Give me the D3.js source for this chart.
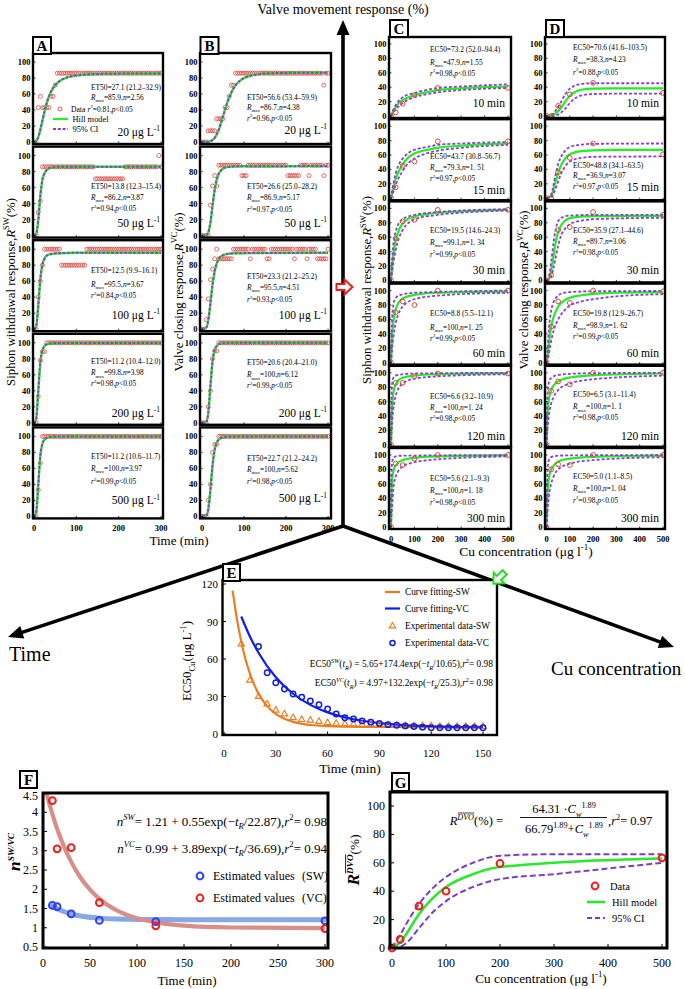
<!DOCTYPE html>
<html><head><meta charset="utf-8">
<script src="https://cdn.jsdelivr.net/npm/d3@7/dist/d3.min.js"></script>
<style>
html,body{margin:0;padding:0;background:#fff;}
svg{display:block;}
text{font-family:"Liberation Serif","Times New Roman",Times,serif;}
</style></head>
<body><svg id="fig" width="685" height="989" viewBox="0 0 685 989"></svg>
<script>
// ================= DATA =================
const sampleTimes=[0,5,10,15,20,25,30,35,40,45,50,55,60,65,70,75,80,85,90,95,100,105,110,115,120,125,130,135,140,145,150,155,160,165,170,175,180,185,190,195,200,205,210,215,220,225,230,235,240,245,250,255,260,265,270,275,280,285,290,295,300];
const concLabels=["20","50","100","200","500"];
const timeLabels=["10","15","30","60","120","300"];
const concPoints=[0,20,50,100,200,500];

// Panel A observed siphon-withdrawal responses (%), one value per sample time
const obsSW20=[0,0,43,57,43,43,43,43,57,57,71,86,86,86,86,86,86,86,86,86,86,86,86,86,86,86,86,86,86,86,86,86,86,86,86,86,86,86,86,86,86,86,86,86,86,86,86,86,86,86,86,86,86,86,86,86,86,86,86,86,86];
const obsSW50=[0,0,29,43,86,86,86,86,86,86,86,86,86,86,86,86,86,86,86,86,86,86,86,86,86,86,86,86,86,71,71,71,71,71,71,71,71,71,71,71,71,71,71,86,86,86,86,86,86,86,86,86,86,86,86,86,86,86,86,100,86];
const obsSW100=[0,0,40,60,80,100,100,100,100,100,100,100,100,80,80,80,80,80,80,80,80,80,80,80,80,100,100,100,100,100,100,100,100,100,100,100,100,100,100,100,100,100,100,100,100,100,100,100,100,100,100,100,100,100,100,100,100,100,100,100,100];
const obsSW200=[0,0,33,78,89,89,100,100,100,100,100,100,100,100,100,100,100,100,100,100,100,100,100,100,100,100,100,100,100,100,100,100,100,100,100,100,100,100,100,100,100,100,100,100,100,100,100,100,100,100,100,100,100,100,100,100,100,100,100,100,100];
const obsSW500=[0,0,33,67,100,100,100,100,100,100,100,100,100,100,100,100,100,100,100,100,100,100,100,100,100,100,100,100,100,100,100,100,100,100,100,100,100,100,100,100,100,100,100,100,100,100,100,100,100,100,100,100,100,100,100,100,100,100,100,100,100];
// Panel B observed valve-closing responses (%)
const obsVC20=[0,0,0,14,14,14,14,29,29,29,29,43,43,57,71,71,86,86,86,86,86,86,86,86,86,86,86,86,86,86,86,86,86,86,86,86,86,86,86,86,86,86,86,86,86,86,86,86,86,86,86,86,86,86,86,86,86,86,71,86,86];
const obsVC50=[0,0,0,0,38,62,75,62,88,88,88,88,88,88,88,88,88,88,88,75,75,75,88,88,88,88,88,88,88,88,88,88,88,88,88,88,88,88,88,88,88,75,75,75,75,75,75,88,88,88,88,75,88,88,88,88,88,88,75,88,88];
const obsVC100=[0,0,12,38,62,75,88,100,88,88,88,88,88,88,88,100,100,100,100,100,100,100,100,88,100,100,100,100,100,100,100,88,88,100,100,100,100,100,100,100,100,100,100,100,88,100,100,100,100,100,88,100,100,100,100,88,88,88,88,88,100];
const obsVC200=[0,0,0,20,40,80,90,90,100,100,100,100,100,100,100,100,100,100,100,100,100,100,100,100,100,100,100,100,100,100,100,100,100,100,100,100,100,100,100,100,100,100,100,100,100,100,100,100,100,100,100,100,100,100,100,100,100,100,100,100,100];
const obsVC500=[0,0,0,20,40,80,90,90,100,100,100,100,100,100,100,100,100,100,100,100,100,100,100,100,100,100,100,100,100,100,100,100,100,100,100,100,100,100,100,100,100,100,100,100,100,100,100,100,100,100,100,100,100,100,100,100,100,100,100,100,100];

const fitSW=[
 [[0,0],[5,1],[10,6],[15,15.5],[20,27],[25,38.5],[30,48.5],[40,62.7],[50,71],[60,76],[80,81],[100,83],[150,85],[200,85.5],[300,85.7]],
 [[0,0],[5,1.7],[10,19],[15,50],[20,70],[25,78],[30,82],[40,85],[60,86],[300,86.2]],
 [[0,0],[5,3],[10,29],[15,63],[20,81],[25,88.5],[30,92],[40,94],[60,95],[100,95.5],[300,95.5]],
 [[0,0],[5,4],[10,39],[15,76],[20,91],[25,96],[30,98],[40,99.2],[60,99.7],[300,99.8]],
 [[0,0],[5,4],[10,39],[15,76],[20,91],[25,96],[30,98],[40,99.4],[60,99.9],[300,100]]
];
const fitVC=[
 [[0,0],[10,0],[20,1],[30,5],[40,15.5],[50,32],[60,49],[70,62],[80,71],[90,76.5],[100,80],[120,83.5],[150,85.5],[200,86.4],[300,86.7]],
 [[0,0],[10,0.5],[15,4],[20,16],[25,37],[30,56.5],[35,70],[40,77.5],[50,83.7],[60,85.6],[80,86.6],[300,86.9]],
 [[0,0],[10,2],[15,11.5],[20,32],[25,55],[30,72],[35,82],[40,88],[50,92.5],[60,94],[80,95],[300,95.5]],
 [[0,0],[10,1],[15,12.5],[20,45.5],[25,76.6],[30,91],[35,96],[40,98.3],[50,99.6],[60,100],[300,100]],
 [[0,0],[10,1],[15,9],[20,33],[25,63],[30,83],[35,92],[40,96],[50,98.8],[60,99.6],[80,100],[300,100]]
];
const et50SW=["27.1 (21.2–32.9)","13.8 (12.3–15.4)","12.5 (9.9–16.1)","11.2 (10.4–12.0)","11.2 (10.6–11.7)"];
const rmaxSW=["85.9","86.2","95.5","99.8","100"];
const nSW=["2.56","3.87","3.67","3.98","3.97"];
const r2SW=["0.81","0.94","0.84","0.98","0.99"];
const et50VC=["56.6 (53.4–59.9)","26.6 (25.0–28.2)","23.3 (21.2–25.2)","20.6 (20.4–21.0)","22.7 (21.2–24.2)"];
const rmaxVC=["86.7","86.9","95.5","100","100"];
const nVC=["4.38","5.17","4.51","6.12","5.62"];
const r2VC=["0.96","0.97","0.93","0.99","0.98"];

// Panel C (siphon withdrawal vs Cu) observed
const obsCSW=[[0,5,17,29,39,39],[0,15,45,51,79,79],[0,58,82,84,98,98],[0,70,85,80,100,100],[0,86,86,95,99,99],[0,88,86,95,100,100]];
const fitCSW=[
 [[0,0],[10,7],[20,12],[35,19],[50,22],[75,26],[100,29],[150,33],[200,36],[300,38.5],[400,40],[500,41]],
 [[0,0],[10,14],[20,26],[30,35],[50,47],[75,57],[100,62],[150,67],[200,70],[300,73],[400,75],[500,76]],
 [[0,0],[5,20],[10,35],[20,55],[30,67],[50,79],[75,86],[100,89],[150,92],[200,94],[300,96],[500,98]],
 [[0,0],[3,25],[5,38],[10,56],[20,74],[30,82],[50,89],[100,94],[200,97],[500,99]],
 [[0,0],[3,40],[5,55],[10,72],[20,84],[30,89],[50,93],[100,96],[200,98],[500,99.5]],
 [[0,0],[2,40],[5,65],[10,77],[20,86],[50,93],[100,96],[200,98],[500,99.5]]
];
const upCSW=[
 [[0,0],[10,9],[20,15],[50,26],[100,32],[150,36],[200,39],[300,41],[500,44]],
 [[0,0],[10,20],[20,34],[30,44],[50,55],[75,63],[100,67],[150,71],[200,74],[300,76],[500,78]],
 [[0,0],[5,30],[10,50],[20,68],[30,77],[50,85],[75,89],[100,91],[200,95],[300,97],[500,99]],
 [[0,0],[3,45],[5,62],[10,80],[20,90],[50,95],[100,97],[500,100]],
 [[0,0],[3,70],[5,85],[10,93],[20,96],[50,98],[100,99],[500,100]],
 [[0,0],[2,70],[5,90],[10,96],[20,98],[50,99],[500,100]]
];
const loCSW=[
 [[0,0],[10,5],[20,9],[50,18],[100,26],[150,30],[200,33],[300,36],[500,39]],
 [[0,0],[10,9],[20,18],[30,26],[50,38],[75,49],[100,55],[150,62],[200,66],[300,70],[500,74]],
 [[0,0],[5,12],[10,24],[20,42],[30,55],[50,70],[75,80],[100,85],[200,91],[300,94],[500,97]],
 [[0,0],[3,12],[5,20],[10,35],[20,55],[30,66],[50,78],[100,88],[200,93],[500,97]],
 [[0,0],[3,20],[5,32],[10,50],[20,68],[30,77],[50,85],[100,92],[200,95],[500,98]],
 [[0,0],[2,15],[5,30],[10,52],[20,70],[50,84],[100,90],[200,94],[500,98]]
];
const ec50CSW=["73.2 (52.0–94.4)","43.7 (30.8–56.7)","19.5 (14.6–24.3)","8.8 (5.5–12.1)","6.6 (3.2–10.9)","5.6 (2.1–9.3)"];
const rmaxCSW=["47.9","79.3","99.1","100","100","100"];
const nCSW=["1.55","1. 51","1. 34","1. 25","1. 24","1. 18"];
const r2CSW=["0.98","0.97","0.99","0.99","0.98","0.98"];

// Panel D (valve closing vs Cu) observed
const obsCVC=[[0,0,14,30,46,32],[0,0,36,56,76,61],[0,7,70,74,95,91],[0,50,85,83,100,99],[0,75,88,84,100,100],[0,80,87,86,100,100]];
const fitCVC=[
 [[0,0],[20,0.5],[40,4],[60,10],[80,20],[100,28],[120,33],[150,36.5],[200,38],[300,38.3],[500,38.3]],
 [[0,0],[20,3],[30,12],[40,24],[50,35],[60,44],[80,55],[100,61],[150,65.5],[200,66.5],[300,67],[500,67]],
 [[0,0],[10,2],[20,13],[30,33],[40,54],[50,67],[60,75],[80,83],[100,86.5],[150,88.5],[200,89.2],[500,89.7]],
 [[0,0],[5,10],[10,25],[20,50],[30,63],[50,78],[75,86],[100,90],[150,93.5],[200,95.5],[300,97],[500,98]],
 [[0,0],[3,30],[5,45],[10,62],[20,76],[30,82],[50,88],[100,93.5],[200,96.5],[500,99]],
 [[0,0],[3,35],[5,50],[10,67],[20,80],[30,85],[50,91],[100,95],[200,97.5],[500,99]]
];
const upCVC=[
 [[0,0],[20,1],[40,8],[60,18],[80,30],[100,38],[120,42],[150,44.5],[200,45.5],[500,45.5]],
 [[0,0],[20,5],[30,18],[40,34],[50,47],[60,56],[80,66],[100,71],[150,74.5],[200,75.5],[500,76]],
 [[0,0],[10,5],[20,25],[30,52],[40,72],[50,82],[60,86],[80,89],[100,90],[200,91],[500,91]],
 [[0,0],[5,20],[10,45],[20,72],[30,84],[50,93],[75,97],[100,98],[200,99],[500,99.5]],
 [[0,0],[3,55],[5,72],[10,86],[20,93],[50,97],[100,98.5],[200,99.5],[500,100]],
 [[0,0],[3,65],[5,82],[10,93],[20,97],[50,99],[100,99.5],[500,100]]
];
const loCVC=[
 [[0,0],[20,0],[40,1],[60,4],[80,10],[100,18],[120,24],[150,28.5],[200,30.5],[300,31],[500,31]],
 [[0,0],[20,1],[30,6],[40,14],[50,23],[60,32],[80,44],[100,51],[150,56],[200,57.5],[500,58]],
 [[0,0],[10,1],[20,5],[30,17],[40,33],[50,48],[60,60],[80,72],[100,78],[150,83],[200,85],[500,87]],
 [[0,0],[5,4],[10,12],[20,30],[30,44],[50,60],[75,72],[100,79],[150,85],[200,88],[300,92],[500,95]],
 [[0,0],[3,15],[5,25],[10,40],[20,57],[30,66],[50,76],[100,85],[200,91],[500,96]],
 [[0,0],[3,15],[5,25],[10,42],[20,60],[30,70],[50,80],[100,88],[200,93],[500,97]]
];
const ec50CVC=["70.6 (41.6–103.5)","48.8 (34.1–63.5)","35.9 (27.1–44.6)","19.8 (12.9–26.7)","6.5 (3.1–11.4)","5.0 (1.1–8.5)"];
const rmaxCVC=["38.3","36.9","89.7","98.9","100","100"];
const nCVC=["4.23","3.07","3.06","1. 62","1. 1","1. 04"];
const r2CVC=["0.88","0.97","0.98","0.99","0.98","0.98"];

// Panel E
const eTimesSW=[10,15,20,25,30,35,40,45,50,55,60,65,70,75,80,85,90,95,100,105,110,115,120,125,130,135,140,145,150];
const eSW=[72,43,30,24,19,16,13,11.5,11,10,9,8.5,8,8,7.5,7.5,7,7,7,6.5,6.5,6.5,6.5,6,6,6,6,6,6];
const eTimesVC=[20,25,30,35,40,45,50,55,60,65,70,75,80,85,90,95,100,105,110,115,120,125,130,135,140,145,150];
const eVC=[70,49,41,36,32,29.5,26.5,23.5,20,16,13,12,10.5,9.5,8.5,7.5,7,6.5,6,5.5,5,5,5,5,5,5,5];
const eFitSW=[[5,114.7],[7.5,91.9],[10,73.9],[12.5,59.6],[15,48.3],[20,32.3],[25,22.3],[30,16.1],[40,9.7],[50,7.2],[60,6.3],[80,5.75],[100,5.66],[150,5.65]];
const eFitVC=[[10,94],[15,78],[20,65],[30,45.4],[40,32.2],[50,23.3],[60,17.3],[70,13.3],[80,10.6],[90,8.7],[100,7.5],[120,6.1],[150,5.3]];

// Panel F
const fTimes=[10,15,30,60,120,300];
const fSW=[1.58,1.55,1.36,1.19,1.16,1.18];
const fVC=[4.3,3.05,3.08,1.65,1.05,0.98];
const fFitSW=[[10,1.565],[15,1.495],[20,1.44],[30,1.358],[40,1.306],[60,1.25],[80,1.227],[100,1.217],[150,1.211],[300,1.21]];
const fFitVC=[[0,4.88],[5,4.38],[10,3.95],[15,3.57],[20,3.25],[30,2.71],[40,2.3],[50,1.99],[60,1.75],[80,1.43],[100,1.245],[120,1.138],[150,1.055],[200,1.007],[300,0.991]];

// Panel G
const gConc=[0,15,50,100,200,500];
const gObs=[0,6,29.5,40,59.5,63.5];
const gFit=[[0,0],[15,4],[25,9],[50,24],[75,35],[100,43],[150,52],[200,57],[500,63]];
const gUp=[[0,0],[15,9],[25,16],[50,31],[75,42],[100,50],[150,60],[200,65],[300,66],[500,66]];
const gLo=[[0,0],[15,1],[25,3],[50,14],[75,25],[100,33],[150,43],[200,48.5],[300,52],[400,56],[500,60]];

const yTicks100=[0,20,40,60,80,100];
const xTicks300=[0,100,200,300];
const xTicks500=[0,100,200,300,400,500];
const eXTicks=[0,30,60,90,120,150];
const eYTicks=[0,30,60,90,120];
const fXTicks=[0,50,100,150,200,250,300];
const fYTicks=[0.5,1,1.5,2,2.5,3,3.5,4,4.5];

// ================= DRAWING =================
const svg=d3.select("#fig");
const GREEN="#22ee22", PURPLE="#8a3fd1", REDPT="#dd4a44", ORANGE="#f07a1e", BLUE="#0c1de6";

function rich(parent,x,y,segs,o){
  o=o||{};
  const size=o.size||10;
  const g=parent.append("g").attr("transform","translate("+x+","+y+")"+(o.rotate?" rotate("+o.rotate+")":""));
  const inner=g.append("g");
  let cx=0;
  segs.forEach(s=>{
    if(typeof s==="string") s={t:s};
    const small=s.sub||s.sup;
    const fs=small?size*0.66:size*(s.scale||1);
    const dy=s.sub?size*0.3:(s.sup?-size*0.42:0);
    const t=inner.append("text").attr("x",cx).attr("y",dy).attr("font-size",fs).attr("fill",o.color||"#000").text(s.t);
    if(s.i) t.attr("font-style","italic");
    if(s.b||o.bold) t.attr("font-weight","bold");
    const w=t.node().getComputedTextLength();
    if(s.over){inner.append("line").attr("x1",cx+0.5).attr("x2",cx+w).attr("y1",dy-fs*0.82).attr("y2",dy-fs*0.82).attr("stroke",o.color||"#000").attr("stroke-width",Math.max(0.7,fs*0.09));}
    cx+=w+(s.gap||0);
  });
  const a=o.anchor||"start";
  const sh=a==="end"?-cx:(a==="middle"?-cx/2:0);
  inner.attr("transform","translate("+sh+",0)");
  return cx;
}
function arrowHead(g,tip,u,len,half,fill){
  const bx=tip[0]-u[0]*len, by=tip[1]-u[1]*len, px=-u[1], py=u[0];
  g.append("polygon").attr("points",[[tip[0],tip[1]],[bx+px*half,by+py*half],[bx-px*half,by-py*half]].map(p=>p.join(",")).join(" ")).attr("fill",fill);
}
function labelBox(g,x,y,w,h,t){
  g.append("rect").attr("x",x).attr("y",y).attr("width",w).attr("height",h).attr("fill","#fff").attr("stroke","#000").attr("stroke-width",2);
  g.append("text").attr("x",x+w/2).attr("y",y+h-3.5).attr("text-anchor","middle").attr("font-size",15).attr("font-weight","bold").text(t);
}

// ---- 3D axes arrows ----
const gAx=svg.append("g");
const origin=[343,526];
[[343,20],[8,637],[674,647]].forEach(e=>{
  const dx=e[0]-origin[0], dy=e[1]-origin[1], L=Math.hypot(dx,dy), u=[dx/L,dy/L];
  gAx.append("line").attr("x1",origin[0]).attr("y1",origin[1]).attr("x2",e[0]-u[0]*10).attr("y2",e[1]-u[1]*10).attr("stroke","#000").attr("stroke-width",3.6);
  arrowHead(gAx,e,u,15,6.5,"#000");
});
gAx.append("text").attr("x",343).attr("y",14).attr("text-anchor","middle").attr("font-size",14).text("Valve movement response (%)");
gAx.append("text").attr("x",9).attr("y",661).attr("font-size",20).text("Time");
gAx.append("text").attr("x",551).attr("y",675).attr("font-size",19).text("Cu concentration");

// ---- Panels A & B ----
const abTops=[53,146.6,240.2,333.8,427.4];
function timeColumn(cfg){
  const g=svg.append("g");
  const x=d3.scaleLinear([0,300],[cfg.x0,cfg.x1]);
  cfg.obs.forEach((vals,i)=>{
    const top=abTops[i], h=91;
    const y=d3.scaleLinear([0,100],[top+89,top+9]);
    g.append("rect").attr("x",cfg.fl).attr("y",top).attr("width",cfg.fr-cfg.fl).attr("height",h).attr("fill","#fff");
    g.append("g").selectAll("circle").data(vals).join("circle")
      .attr("cx",(d,k)=>x(sampleTimes[k])).attr("cy",d=>y(d)).attr("r",2)
      .attr("fill","none").attr("stroke",REDPT).attr("stroke-width",0.8);
    const ln=d3.line().x(d=>x(d[0])).y(d=>y(d[1])).curve(d3.curveMonotoneX);
    g.append("path").attr("d",ln(cfg.fits[i])).attr("fill","none").attr("stroke",GREEN).attr("stroke-width",2.4);
    g.append("path").attr("d",ln(cfg.fits[i])).attr("fill","none").attr("stroke",PURPLE).attr("stroke-width",2).attr("stroke-dasharray","2.6,1.8");
    g.append("rect").attr("x",cfg.fl).attr("y",top).attr("width",cfg.fr-cfg.fl).attr("height",h).attr("fill","none").attr("stroke","#000").attr("stroke-width",2.4);
    yTicks100.forEach(v=>{
      g.append("text").attr("x",cfg.fl-2.5).attr("y",y(v)+3).attr("text-anchor","end").attr("font-size",8.5).attr("font-weight","bold").text(v);
      g.append("line").attr("x1",cfg.fl).attr("x2",cfg.fl+2.5).attr("y1",y(v)).attr("y2",y(v)).attr("stroke","#000").attr("stroke-width",0.8);
    });
    xTicks300.forEach(v=>{
      g.append("line").attr("x1",x(v)).attr("x2",x(v)).attr("y1",top+h).attr("y2",top+h-2.5).attr("stroke","#000").attr("stroke-width",0.8);
      if(i===4) g.append("text").attr("x",x(v)).attr("y",top+h+13).attr("text-anchor","middle").attr("font-size",8.5).attr("font-weight","bold").text(v);
    });
    const an=cfg.ann[i], fs=7.4;
    rich(g,cfg.tx,top+an[0]+2.5,["ET50="+cfg.et[i]],{size:fs});
    rich(g,cfg.tx,top+an[1]+2.5,[{t:"R",i:1},{t:"max",sub:1},"="+cfg.rmax[i]+", ",{t:"n",i:1},"="+cfg.n[i]],{size:fs});
    rich(g,(cfg.legend&&i===0)?cfg.tx-3.5:cfg.tx,top+an[2]+2.5,[{t:"r",i:1},{t:"2",sup:1},"="+cfg.r2[i]+", ",{t:"p",i:1},"<0.05"],{size:fs});
    rich(g,cfg.cx,top+an[3]+4,[concLabels[i]+" μg L",{t:"-1",sup:1}],{size:11.5,anchor:"end"});
    if(cfg.legend&&i===0){
      g.append("circle").attr("cx",60).attr("cy",top+56).attr("r",2).attr("fill","none").attr("stroke",REDPT).attr("stroke-width",0.9);
      g.append("text").attr("x",71).attr("y",top+58.5).attr("font-size",7.6).text("Data");
      g.append("line").attr("x1",53).attr("x2",68).attr("y1",top+66).attr("y2",top+66).attr("stroke",GREEN).attr("stroke-width",2.2);
      g.append("text").attr("x",72.5).attr("y",top+69).attr("font-size",8.4).text("Hill model");
      g.append("line").attr("x1",53).attr("x2",68).attr("y1",top+76).attr("y2",top+76).attr("stroke",PURPLE).attr("stroke-width",2).attr("stroke-dasharray","3,1.8");
      g.append("text").attr("x",72.5).attr("y",top+79).attr("font-size",8.4).text("95% CI");
    }
  });
  labelBox(g,cfg.box[0],37,18,17,cfg.letter);
  rich(g,cfg.ylx,292,[cfg.yname,{t:"R",i:1},{t:cfg.ysup,sup:1},"(%)"],{size:12.8,rotate:-90,anchor:"middle"});
}
timeColumn({obs:[obsSW20,obsSW50,obsSW100,obsSW200,obsSW500],fits:fitSW,et:et50SW,rmax:rmaxSW,n:nSW,r2:r2SW,
  fl:33,fr:163,x0:34,x1:161,tx:91,cx:160,legend:true,letter:"A",box:[33],ylx:14.5,yname:"Siphon withdrawal response, ",ysup:"SW",
  ann:[[34,44,56,79],[40,51,62,76],[30,44,55,75],[28,39,50,79],[29,41,54,73]]});
timeColumn({obs:[obsVC20,obsVC50,obsVC100,obsVC200,obsVC500],fits:fitVC,et:et50VC,rmax:rmaxVC,n:nVC,r2:r2VC,
  fl:200,fr:331,x0:202,x1:328,tx:247,cx:327,legend:false,letter:"B",box:[200.5],ylx:182.5,yname:"Valve closing response, ",ysup:"VC",
  ann:[[44,54,65,77],[40,51,63,76],[36,47,59,75],[29,41,52,79],[31,42,54,71]]});
svg.append("text").attr("x",179).attr("y",544.5).attr("text-anchor","middle").attr("font-size",13).text("Time (min)");

// ---- Panels C & D ----
const cdTops=[37,119.2,201.4,283.6,365.8,448];
function concColumn(cfg){
  const g=svg.append("g");
  const x=d3.scaleLinear([0,500],[cfg.x0,cfg.x1]);
  cfg.obs.forEach((vals,i)=>{
    const top=cdTops[i], h=81;
    const y=d3.scaleLinear([0,100],[top+79,top+7]);
    g.append("rect").attr("x",cfg.fl).attr("y",top).attr("width",cfg.fr-cfg.fl).attr("height",h).attr("fill","#fff");
    const ln=d3.line().x(d=>x(d[0])).y(d=>y(d[1])).curve(d3.curveMonotoneX);
    g.append("path").attr("d",ln(cfg.fit[i])).attr("fill","none").attr("stroke",GREEN).attr("stroke-width",2.2);
    [cfg.up[i],cfg.lo[i]].forEach(c=>g.append("path").attr("d",ln(c)).attr("fill","none").attr("stroke",PURPLE).attr("stroke-width",1.8).attr("stroke-dasharray","3,2"));
    g.append("g").selectAll("circle").data(vals).join("circle")
      .attr("cx",(d,k)=>x(concPoints[k])).attr("cy",d=>y(d)).attr("r",2.4)
      .attr("fill","none").attr("stroke",REDPT).attr("stroke-width",1);
    g.append("rect").attr("x",cfg.fl).attr("y",top).attr("width",cfg.fr-cfg.fl).attr("height",h).attr("fill","none").attr("stroke","#000").attr("stroke-width",2.4);
    yTicks100.forEach(v=>{
      g.append("text").attr("x",cfg.fl-2.5).attr("y",y(v)+3).attr("text-anchor","end").attr("font-size",8.5).attr("font-weight","bold").text(v);
      g.append("line").attr("x1",cfg.fl).attr("x2",cfg.fl+2.5).attr("y1",y(v)).attr("y2",y(v)).attr("stroke","#000").attr("stroke-width",0.8);
    });
    xTicks500.forEach(v=>{
      g.append("line").attr("x1",x(v)).attr("x2",x(v)).attr("y1",top+h).attr("y2",top+h-2.5).attr("stroke","#000").attr("stroke-width",0.8);
      if(i===5) g.append("text").attr("x",x(v)).attr("y",top+h+13).attr("text-anchor","middle").attr("font-size",8.5).attr("font-weight","bold").text(v);
    });
    const an=cfg.ann[i], fs=7.4;
    rich(g,cfg.tx,top+an[0]+2.5,["EC50="+cfg.ec[i]],{size:fs});
    rich(g,cfg.tx,top+an[1]+2.5,[{t:"R",i:1},{t:"max",sub:1},"="+cfg.rmax[i]+", ",{t:"n",i:1},"="+cfg.n[i]],{size:fs});
    rich(g,cfg.tx,top+an[2]+2.5,[{t:"r",i:1},{t:"2",sup:1},"="+cfg.r2[i]+", ",{t:"p",i:1},"<0.05"],{size:fs});
    g.append("text").attr("x",cfg.cx).attr("y",top+an[3]+4).attr("text-anchor","end").attr("font-size",11.5).text(timeLabels[i]+" min");
  });
  labelBox(g,cfg.fl+1,20,18,17,cfg.letter);
  rich(g,cfg.ylx,290,[cfg.yname,{t:"R",i:1},{t:cfg.ysup,sup:1},"(%)"],{size:12.8,rotate:-90,anchor:"middle"});
}
concColumn({obs:obsCSW,fit:fitCSW,up:upCSW,lo:loCSW,ec:ec50CSW,rmax:rmaxCSW,n:nCSW,r2:r2CSW,
  fl:389,fr:511,x0:391,x1:508,tx:430,cx:505,letter:"C",ylx:371,yname:"Siphon withdrawal response, ",ysup:"SW",
  ann:[[12,25,36,66],[37.5,48,59,71],[28.6,40.6,52.6,68.6],[29.4,43.4,54.4,69.4],[31,42,53,70],[30,42,54,70]]});
concColumn({obs:obsCVC,fit:fitCVC,up:upCVC,lo:loCVC,ec:ec50CVC,rmax:rmaxCVC,n:nCVC,r2:r2CVC,
  fl:545,fr:665,x0:546.5,x1:663,tx:573,cx:659,letter:"D",ylx:528,yname:"Valve closing response, ",ysup:"VC",
  ann:[[10,22,35,66],[46,56.5,67.5,67.5],[28.6,40,51,68.6],[29.4,41.4,53,69.4],[29,41,52,70],[28,40,52,70]]});
rich(svg,526,556,["Cu concentration (μg l",{t:"-1",sup:1},")"],{size:13.5,anchor:"middle"});

// ---- Panel E ----
(function(){
  const g=svg.append("g");
  const x=d3.scaleLinear([0,150],[224,483]), y=d3.scaleLinear([0,120],[734,584]);
  g.append("rect").attr("x",222.5).attr("y",580).attr("width",274.5).attr("height",155).attr("fill","#fff");
  const ln=d3.line().x(d=>x(d[0])).y(d=>y(d[1])).curve(d3.curveMonotoneX);
  g.append("path").attr("d",ln(eFitSW)).attr("fill","none").attr("stroke",ORANGE).attr("stroke-width",2.2);
  g.append("path").attr("d",ln(eFitVC)).attr("fill","none").attr("stroke",BLUE).attr("stroke-width",2.2);
  const tri=d3.symbol(d3.symbolTriangle,18);
  g.append("g").selectAll("path").data(eSW).join("path").attr("d",tri)
    .attr("transform",(d,k)=>"translate("+x(eTimesSW[k])+","+y(d)+")").attr("fill","none").attr("stroke",ORANGE).attr("stroke-width",1.1);
  g.append("g").selectAll("circle").data(eVC).join("circle")
    .attr("cx",(d,k)=>x(eTimesVC[k])).attr("cy",d=>y(d)).attr("r",2.7).attr("fill","none").attr("stroke",BLUE).attr("stroke-width",1.5);
  g.append("rect").attr("x",222.5).attr("y",580).attr("width",274.5).attr("height",155).attr("fill","none").attr("stroke","#000").attr("stroke-width",2.4);
  eYTicks.forEach(v=>{
    g.append("text").attr("x",218).attr("y",y(v)+4).attr("text-anchor","end").attr("font-size",11).text(v);
    g.append("line").attr("x1",222.5).attr("x2",226).attr("y1",y(v)).attr("y2",y(v)).attr("stroke","#000");
  });
  eXTicks.forEach(v=>{
    g.append("text").attr("x",x(v)).attr("y",757).attr("text-anchor","middle").attr("font-size",11).text(v);
    g.append("line").attr("x1",x(v)).attr("x2",x(v)).attr("y1",735).attr("y2",731.5).attr("stroke","#000");
  });
  g.append("text").attr("x",350).attr("y",772.5).attr("text-anchor","middle").attr("font-size",13.5).text("Time (min)");
  rich(g,191,661,["EC50",{t:"Cu",sub:1}," (μg L",{t:"-1",sup:1},")"],{size:13,rotate:-90,anchor:"middle"});
  // legend
  const lx=385, fsz=9.3;
  g.append("line").attr("x1",lx).attr("x2",lx+15).attr("y1",592).attr("y2",592).attr("stroke",ORANGE).attr("stroke-width",2.2);
  g.append("text").attr("x",405).attr("y",595).attr("font-size",fsz).text("Curve fitting-SW");
  g.append("line").attr("x1",lx).attr("x2",lx+15).attr("y1",608.5).attr("y2",608.5).attr("stroke",BLUE).attr("stroke-width",2.2);
  g.append("text").attr("x",405).attr("y",611.5).attr("font-size",fsz).text("Curve fitting-VC");
  g.append("path").attr("d",tri).attr("transform","translate(392.5,626)").attr("fill","none").attr("stroke",ORANGE).attr("stroke-width",1.1);
  g.append("text").attr("x",405).attr("y",629).attr("font-size",fsz).text("Experimental data-SW");
  g.append("circle").attr("cx",392.5).attr("cy",643).attr("r",2.5).attr("fill","none").attr("stroke",BLUE).attr("stroke-width",1.5);
  g.append("text").attr("x",405).attr("y",646).attr("font-size",fsz).text("Experimental data-VC");
  rich(g,493,667,["EC50",{t:"SW",sup:1,i:1},"(",{t:"t",i:1},{t:"R",sub:1,i:1},") = 5.65+174.4exp(−",{t:"t",i:1},{t:"R",sub:1,i:1},"/10.65),  ",{t:"r",i:1},{t:"2",sup:1}," = 0.98"],{size:9.4,anchor:"end"});
  rich(g,493,686,["EC50",{t:"VC",sup:1,i:1},"(",{t:"t",i:1},{t:"R",sub:1,i:1},") = 4.97+132.2exp(−",{t:"t",i:1},{t:"R",sub:1,i:1},"/25.3),  ",{t:"r",i:1},{t:"2",sup:1}," = 0.98"],{size:9.4,anchor:"end"});
  labelBox(g,223,564,17,17,"E");
})();

// ---- Panel F ----
(function(){
  const g=svg.append("g");
  const x=d3.scaleLinear([0,300],[43,325]), y=d3.scaleLinear([0.5,4.5],[947,793]);
  g.append("rect").attr("x",43).attr("y",793).attr("width",285).attr("height",155).attr("fill","#fff");
  svg.append("clipPath").attr("id","clipF").append("rect").attr("x",43).attr("y",793).attr("width",285).attr("height",155);
  const ln=d3.line().x(d=>x(d[0])).y(d=>y(d[1])).curve(d3.curveMonotoneX);
  const cg=g.append("g").attr("clip-path","url(#clipF)");
  cg.append("path").attr("d",ln(fFitSW)).attr("fill","none").attr("stroke","#86a8e6").attr("stroke-width",5).attr("stroke-linecap","round");
  cg.append("path").attr("d",ln(fFitVC)).attr("fill","none").attr("stroke","#d88e89").attr("stroke-width",4.2);
  g.append("g").selectAll("circle").data(fSW).join("circle").attr("cx",(d,k)=>x(fTimes[k])).attr("cy",d=>y(d)).attr("r",3.4).attr("fill","none").attr("stroke","#2f42f2").attr("stroke-width",2);
  g.append("g").selectAll("circle").data(fVC).join("circle").attr("cx",(d,k)=>x(fTimes[k])).attr("cy",d=>y(d)).attr("r",3.4).attr("fill","none").attr("stroke","#f01e1e").attr("stroke-width",2);
  g.append("rect").attr("x",43).attr("y",793).attr("width",285).attr("height",155).attr("fill","none").attr("stroke","#000").attr("stroke-width",3);
  fYTicks.forEach(v=>{
    g.append("text").attr("x",38).attr("y",y(v)+(v===4.5?7:4)).attr("text-anchor","end").attr("font-size",12).text(v);
    g.append("line").attr("x1",43).attr("x2",47).attr("y1",y(v)).attr("y2",y(v)).attr("stroke","#000");
  });
  fXTicks.forEach(v=>{
    g.append("text").attr("x",x(v)).attr("y",966.5).attr("text-anchor","middle").attr("font-size",12).text(v);
    g.append("line").attr("x1",x(v)).attr("x2",x(v)).attr("y1",948).attr("y2",944).attr("stroke","#000");
  });
  g.append("text").attr("x",187).attr("y",984.5).attr("text-anchor","middle").attr("font-size",13).text("Time (min)");
  rich(g,20,852,[{t:"n",i:1,b:1,scale:1.25},{t:"SW/VC",sup:1,i:1,b:1}],{size:14,rotate:-90,anchor:"middle"});
  g.append("circle").attr("cx",200).attr("cy",876).attr("r",3.4).attr("fill","none").attr("stroke","#2f42f2").attr("stroke-width",2);
  g.append("text").attr("x",213).attr("y",880).attr("font-size",12).text("Estimated values");
  g.append("text").attr("x",302).attr("y",880).attr("font-size",12).text("(SW)");
  g.append("circle").attr("cx",200).attr("cy",898).attr("r",3.4).attr("fill","none").attr("stroke","#f01e1e").attr("stroke-width",2);
  g.append("text").attr("x",213).attr("y",902).attr("font-size",12).text("Estimated values");
  g.append("text").attr("x",302).attr("y",902).attr("font-size",12).text("(VC)");
  rich(g,327,825.5,[{t:"n",i:1},{t:"SW",sup:1,i:1}," = 1.21 + 0.55exp(−",{t:"t",i:1},{t:"R",sub:1,i:1},"/22.87), ",{t:"r",i:1},{t:"2",sup:1}," = 0.98"],{size:13,anchor:"end"});
  rich(g,327,852.5,[{t:"n",i:1},{t:"VC",sup:1,i:1}," = 0.99 + 3.89exp(−",{t:"t",i:1},{t:"R",sub:1,i:1},"/36.69), ",{t:"r",i:1},{t:"2",sup:1}," = 0.94"],{size:13,anchor:"end"});
  labelBox(g,20,771,17,17,"F");
})();

// ---- Panel G ----
(function(){
  const g=svg.append("g");
  const x=d3.scaleLinear([0,500],[392,662]), y=d3.scaleLinear([0,100],[948,806]);
  g.append("rect").attr("x",390).attr("y",792).attr("width",277).attr("height",156).attr("fill","#fff");
  const ln=d3.line().x(d=>x(d[0])).y(d=>y(d[1])).curve(d3.curveMonotoneX);
  [gUp,gLo].forEach(c=>g.append("path").attr("d",ln(c)).attr("fill","none").attr("stroke","#7d3fc2").attr("stroke-width",2).attr("stroke-dasharray","6,3"));
  g.append("path").attr("d",ln(gFit)).attr("fill","none").attr("stroke","#2be82b").attr("stroke-width",2.6);
  g.append("g").selectAll("circle").data(gObs).join("circle").attr("cx",(d,k)=>x(gConc[k])).attr("cy",d=>y(d)).attr("r",3.4).attr("fill","none").attr("stroke","#f01e1e").attr("stroke-width",2);
  g.append("rect").attr("x",390).attr("y",792).attr("width",277).attr("height",156).attr("fill","none").attr("stroke","#000").attr("stroke-width",3);
  yTicks100.forEach(v=>{
    g.append("text").attr("x",385).attr("y",y(v)+4).attr("text-anchor","end").attr("font-size",12).text(v);
    g.append("line").attr("x1",390).attr("x2",394).attr("y1",y(v)).attr("y2",y(v)).attr("stroke","#000");
  });
  xTicks500.forEach(v=>{
    g.append("text").attr("x",x(v)).attr("y",966.5).attr("text-anchor","middle").attr("font-size",12).text(v);
    g.append("line").attr("x1",x(v)).attr("x2",x(v)).attr("y1",948).attr("y2",944).attr("stroke","#000");
  });
  rich(g,541,983,["Cu concentration (μg l",{t:"-1",sup:1},")"],{size:13.3,anchor:"middle"});
  rich(g,359,860,[{t:"R",i:1,b:1,scale:1.25},{t:"DVO",sup:1,i:1,b:1,over:1},{t:" (%)",scale:0.95}],{size:14,rotate:-90,anchor:"middle"});
  // legend
  g.append("circle").attr("cx",595).attr("cy",886).attr("r",3.4).attr("fill","none").attr("stroke","#f01e1e").attr("stroke-width",2);
  g.append("text").attr("x",610).attr("y",890).attr("font-size",10.5).text("Data");
  g.append("line").attr("x1",587).attr("x2",605).attr("y1",902).attr("y2",902).attr("stroke","#2be82b").attr("stroke-width",2.6);
  g.append("text").attr("x",612).attr("y",906).attr("font-size",10.5).text("Hill model");
  g.append("line").attr("x1",587).attr("x2",605).attr("y1",918).attr("y2",918).attr("stroke","#7d3fc2").attr("stroke-width",2).attr("stroke-dasharray","5,3");
  g.append("text").attr("x",612).attr("y",922).attr("font-size",10.5).text("95% CI");
  // equation
  rich(g,503,825,[{t:"R",i:1},{t:"DVO",sup:1,i:1,over:1},"(%) ="],{size:12.5,anchor:"end"});
  rich(g,564,813,["64.31 · ",{t:"C",i:1},{t:"w",sub:1,i:1},{t:"1.89",sup:1}],{size:12.5,anchor:"middle"});
  g.append("line").attr("x1",520).attr("x2",607).attr("y1",817.5).attr("y2",817.5).attr("stroke","#000").attr("stroke-width",0.9);
  rich(g,564,833,["66.79",{t:"1.89",sup:1}," + ",{t:"C",i:1},{t:"w",sub:1,i:1},{t:"1.89",sup:1}],{size:12.5,anchor:"middle"});
  rich(g,608,825,[", ",{t:"r",i:1},{t:"2",sup:1}," = 0.97"],{size:12.5});
  labelBox(g,392,773,17,18,"G");
})();

// ---- hollow pointer arrows ----
function hollowArrow(cx,cy,rot,color,s){
  const pts=[[-8,-3],[0,-3],[0,-7.5],[8,0],[0,7.5],[0,3],[-8,3]].map(p=>[p[0]*s,p[1]*s]);
  svg.append("polygon").attr("points",pts.map(p=>p.join(",")).join(" "))
    .attr("transform","translate("+cx+","+cy+") rotate("+rot+")").attr("fill","#fff").attr("stroke",color).attr("stroke-width",2);
}
hollowArrow(344.5,287,0,"#ee1c1c",1);
hollowArrow(499,578,135,"#22dd22",1);
</script></body></html>
